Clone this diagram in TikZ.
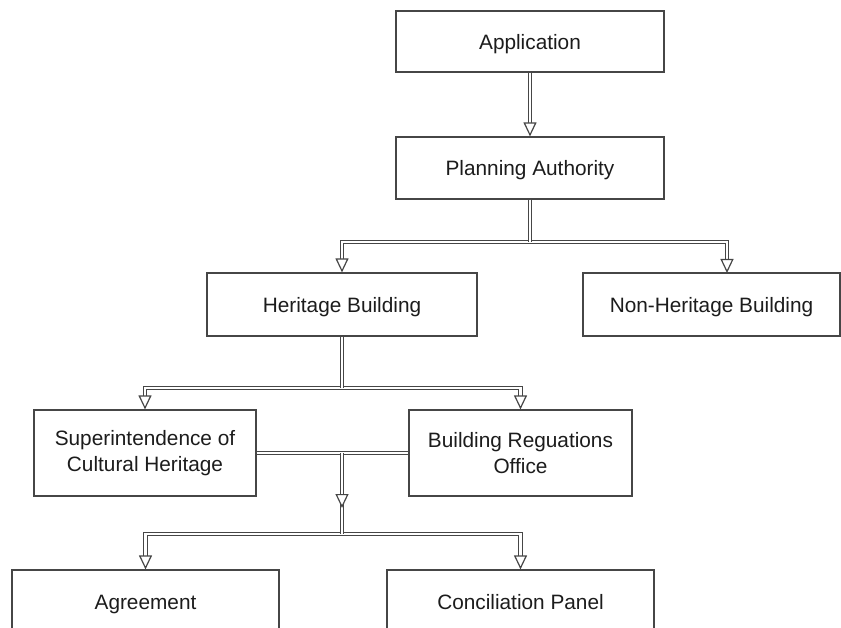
\documentclass[tikz,border=0pt]{standalone}
\usepackage{fontspec}
\setmainfont{Liberation Sans}
\usetikzlibrary{arrows.meta}
\definecolor{edge}{RGB}{70,70,70}
\definecolor{ink}{RGB}{28,28,28}
\begin{document}
\begin{tikzpicture}[x=1pt,y=-1pt,
  box/.style={draw=edge, line width=1.2pt, fill=white, inner sep=0pt,
    text=ink, align=center, font=\fontsize{20.8}{25.5}\selectfont},
  onebox/.style={box, text height=16pt, text depth=0pt},
  dbl/.style={draw=edge, line width=1.3pt, double=white, double distance=2.2pt},
  arr/.style={-{Triangle[fill=white, line width'=1.2pt, width=13pt, length=14pt]}}]
\useasboundingbox (0,0) rectangle (841,628);
\clip (0,0) rectangle (841,628);
% boxes
\node[onebox, minimum width=268, minimum height=61] (app) at (530,41.5) {Application};
\node[onebox, minimum width=268, minimum height=62] (pa) at (530,168) {Planning Authority};
\node[onebox, minimum width=270, minimum height=63] (hb) at (342,304.5) {Heritage Building};
\node[onebox, minimum width=257, minimum height=63] (nhb) at (711.5,304.5) {Non-Heritage Building};
\node[box, minimum width=222, minimum height=86] (sch) at (145,453) {Superintendence of\\Cultural Heritage};
\node[box, minimum width=223, minimum height=86] (bro) at (520.5,453) {Building Reguations\\Office};
\node[onebox, minimum width=267, minimum height=63] (agr) at (145.5,601.5) {Agreement};
\node[onebox, minimum width=267, minimum height=63] (con) at (520.5,601.5) {Conciliation Panel};
% junction coordinates
\coordinate (j1) at (530,242);
\coordinate (nhbin) at (727,273);
\coordinate (j2) at (342,388);
\coordinate (j3) at (342,453);
\coordinate (j3m) at (342,508);
\coordinate (j4) at (342,534);
% connectors
\draw[dbl, arr] (app.south) -- (pa.north);
\draw[dbl, arr] (j1) -| (hb.north);
\draw[dbl, arr] (j1) -| (nhbin);
\draw[dbl] (pa.south) -- (j1);
\draw[dbl, arr] (j2) -| (sch.north);
\draw[dbl, arr] (j2) -| (bro.north);
\draw[dbl] (hb.south) -- (j2);
\draw[dbl] (sch.east) -- (bro.west);
\draw[dbl, arr] (j4) -| (agr.north);
\draw[dbl, arr] (j4) -| (con.north);
\draw[dbl] (j3) -- (j4);
\draw[dbl, arr] (j3) -- (j3m);
\end{tikzpicture}
\end{document}
